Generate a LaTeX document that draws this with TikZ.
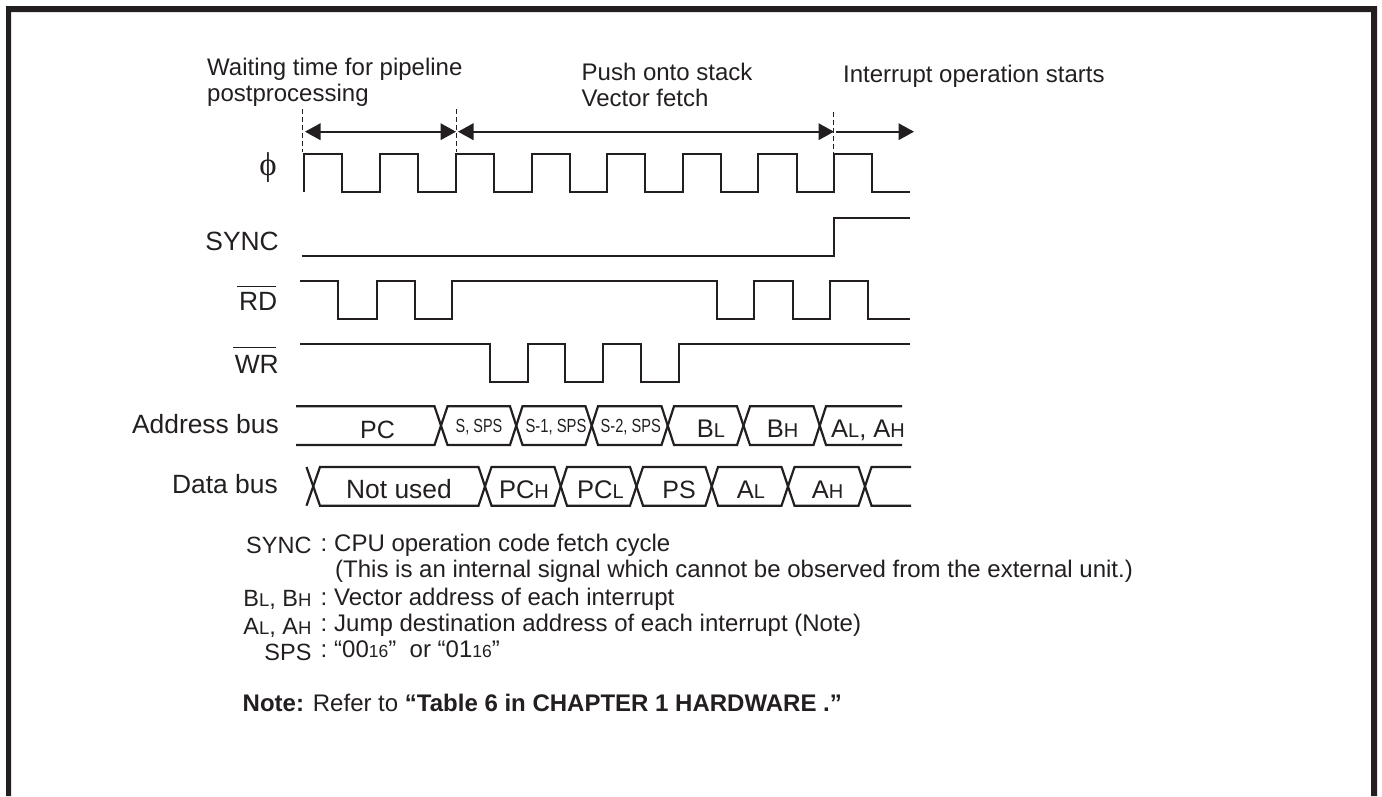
\documentclass[tikz,border=0pt]{standalone}
\usepackage{fontspec}
\setmainfont{Liberation Sans}
\newfontfamily\phifont{Liberation Serif}
\usetikzlibrary{arrows.meta}
\definecolor{ink}{HTML}{231F20}
\newcommand{\lo}[1]{{\fontsize{20}{22}\selectfont #1}}
\newcommand{\lok}[1]{{\fontsize{18.5}{20}\selectfont #1}}
\newcommand{\los}[1]{{\fontsize{17.5}{20}\selectfont #1}}
\tikzset{
  wave/.style={draw=ink,line width=2.2pt,line join=miter},
  bus/.style={draw=ink,line width=2.2pt,line join=miter},
  guide/.style={draw=ink,line width=1pt,dash pattern=on 5pt off 3pt},
  span/.style={draw=ink,line width=2pt,{Triangle[length=15.5pt,width=16.5pt]}-{Triangle[length=15.5pt,width=16.5pt]}},
  spanr/.style={draw=ink,line width=2pt,-{Triangle[length=15.5pt,width=16.5pt]}},
  bar/.style={draw=ink,line width=1pt},
  txt/.style={anchor=base west,inner sep=0pt,text=ink,font=\fontsize{24}{26}\selectfont},
  txtr/.style={anchor=base east,inner sep=0pt,text=ink,font=\fontsize{23.5}{26}\selectfont},
  lab/.style={anchor=base east,inner sep=0pt,text=ink,font=\fontsize{26.4}{28}\selectfont},
  cell/.style={anchor=base,inner sep=0pt,text=ink,font=\fontsize{25.5}{27}\selectfont},
  tiny/.style={anchor=base,inner sep=0pt,text=ink,font=\fontsize{19}{20}\selectfont},
  note/.style={anchor=base west,inner sep=0pt,text=ink,font=\fontsize{24}{26}\selectfont},
}
\begin{document}
\begin{tikzpicture}[x=1pt,y=-1pt]
\useasboundingbox (0,0) rectangle (1382,796);
% frame
\fill[ink] (6,796) -- (6,6) -- (1377,6) -- (1377,796) -- (1371,796) -- (1371,12) -- (11,12) -- (11,796) -- cycle;
% headings
\node[txt] (h1) at (207,75) {Waiting time for pipeline};
\node[txt] (h2) at (207,101) {postprocessing};
\node[txt] (h3) at (581.5,80) {Push onto stack};
\node[txt] (h4) at (581.5,106) {Vector fetch};
\node[txt] (h5) at (843,82.7) {Interrupt operation starts};
% guides
\coordinate (g1t) at (302.7,109.3); \coordinate (g1b) at (302.7,152);
\coordinate (g2t) at (456.7,109.3); \coordinate (g2b) at (456.7,152);
\coordinate (g3t) at (833.3,112); \coordinate (g3b) at (833.3,154);
\draw[guide] (g1t) -- (g1b);
\draw[guide] (g2t) -- (g2b);
\draw[guide] (g3t) -- (g3b);
% spans
\coordinate (a1) at (305,131.7); \coordinate (a2) at (456,131.7);
\coordinate (a3) at (458,131.7); \coordinate (a4) at (834,131.7);
\coordinate (a5) at (836,131.7); \coordinate (a6) at (914,131.7);
\draw[span] (a1) -- (a2);
\draw[span] (a3) -- (a4);
\draw[spanr] (a5) -- (a6);
% signal labels
\node[anchor=center,inner sep=0pt,text=ink,font=\fontsize{33}{34}\phifont] (phi) at (268,168) {ϕ};
\node[lab] (sync) at (279,250.7) {SYNC};
\node[lab] (rd) at (277.5,310.7) {RD};
\node[lab] (wr) at (279,373.3) {WR};
\coordinate (rdl) at (237,286.7); \coordinate (rdr) at (276,286.7);
\coordinate (wrl) at (233,347.7); \coordinate (wrr) at (276,347.7);
\draw[bar] (rdl) -- (rdr);
\draw[bar] (wrl) -- (wrr);
\node[lab] (ab) at (279,433.3) {Address bus};
\node[lab] (db) at (278,493.3) {Data bus};
% waves
\draw[wave] (304,192) -- (304,154) -| (342,191.7) -| (380,154) -| (418,191.7) -| (456,154) -| (494,191.7) -| (531.7,154) -| (570,191.7) -| (607,154) -| (645,191.7) -| (682.7,154) -| (720.7,191.7) -| (758.3,154) -| (796.7,191.7) -| (834,154) -| (872,191.7) -- (910,191.7);
\draw[wave] (301.7,256) -- (834,256) |- (910,218);
\draw[wave] (300,281) -| (338,319.3) -| (376.7,281) -| (415,319.3) -| (452.3,281) -| (716.7,319.3) -| (754.3,281) -| (792.7,319.3) -| (830,281) -| (867.7,319.3) -- (910,319.3);
\draw[wave] (300,344) -| (490,381.7) -| (527.7,344) -| (565,381.7) -| (603,344) -| (641,381.7) -| (679,344) -- (910,344);
% address bus
\draw[bus] (296,406.3) -- (434.5,406.3) -- (447.5,445) -- (510,445) -- (522.5,406.3) -- (585.5,406.3) -- (598,445) -- (661.5,445) -- (674,406.3) -- (737,406.3) -- (750,445) -- (813.5,445) -- (826,406.3) -- (902,406.3);
\draw[bus] (296,445) -- (434.5,445) -- (447.5,406.3) -- (510,406.3) -- (522.5,445) -- (585.5,445) -- (598,406.3) -- (661.5,406.3) -- (674,445) -- (737,445) -- (750,406.3) -- (813.5,406.3) -- (826,445) -- (902,445);
% data bus
\draw[bus] (306.5,467) -- (320,505.7) -- (478.5,505.7) -- (491.5,467) -- (554.5,467) -- (567,505.7) -- (630,505.7) -- (643,467) -- (705.5,467) -- (718,505.7) -- (781.5,505.7) -- (794.5,467) -- (858.5,467) -- (871.5,505.7) -- (911,505.7);
\draw[bus] (306.5,505.7) -- (320,467) -- (478.5,467) -- (491.5,505.7) -- (554.5,505.7) -- (567,467) -- (630,467) -- (643,505.7) -- (705.5,505.7) -- (718,467) -- (781.5,467) -- (794.5,505.7) -- (858.5,505.7) -- (871.5,467) -- (911,467);
% address cells
\node[cell,font=\fontsize{25}{27}\selectfont] (c1) at (377.5,438.3) {PC};
\node[tiny,xscale=.76] (c2) at (479,432.3) {S, SPS};
\node[tiny,xscale=.78] (c3) at (556,432.3) {S-1, SPS};
\node[tiny,xscale=.77] (c4) at (630.7,432.3) {S-2, SPS};
\node[cell] (c5) at (711,437.7) {B\lo{L}};
\node[cell] (c6) at (782.5,437.7) {B\lo{H}};
\node[cell] (c7) at (868,437.7) {A\lo{L}, A\lo{H}};
% data cells
\node[cell,font=\fontsize{26.4}{27}\selectfont] (d1) at (399,498.3) {Not used};
\node[cell] (d2) at (524,498.3) {PC\lo{H}};
\node[cell] (d3) at (600.5,498.3) {PC\lo{L}};
\node[cell,font=\fontsize{25}{27}\selectfont] (d4) at (679,498.3) {PS};
\node[cell] (d5) at (751,498.3) {A\lo{L}};
\node[cell] (d6) at (827.5,498.3) {A\lo{H}};
% legend
\node[txtr] (k1) at (311.7,553) {SYNC};
\node[note] (t1c) at (320.5,551) {:};
\node[note] (t1) at (334,551) {CPU operation code fetch cycle};
\node[note] (t1b) at (335,577.7) {(This is an internal signal which cannot be observed from the external unit.)};
\node[txtr] (k2) at (311.7,606.7) {B\lok{L}, B\lok{H}};
\node[note] (t2c) at (320.5,605) {:};
\node[note] (t2) at (334,605) {Vector address of each interrupt};
\node[txtr] (k3) at (311.7,634) {A\lok{L}, A\lok{H}};
\node[note] (t3c) at (320.5,631) {:};
\node[note] (t3) at (334,631) {Jump destination address of each interrupt (Note)};
\node[txtr] (k4) at (311.7,660.7) {SPS};
\node[note] (t4c) at (320.5,657.3) {:};
\node[note] (t4) at (334,657.3) {“00\los{16}”\ \ or “01\los{16}”};
\node[note] (n1) at (242.5,711.7) {\textbf{Note:} Refer to \textbf{“Table 6 in CHAPTER 1 HARDWARE .”}};
\end{tikzpicture}
\end{document}
